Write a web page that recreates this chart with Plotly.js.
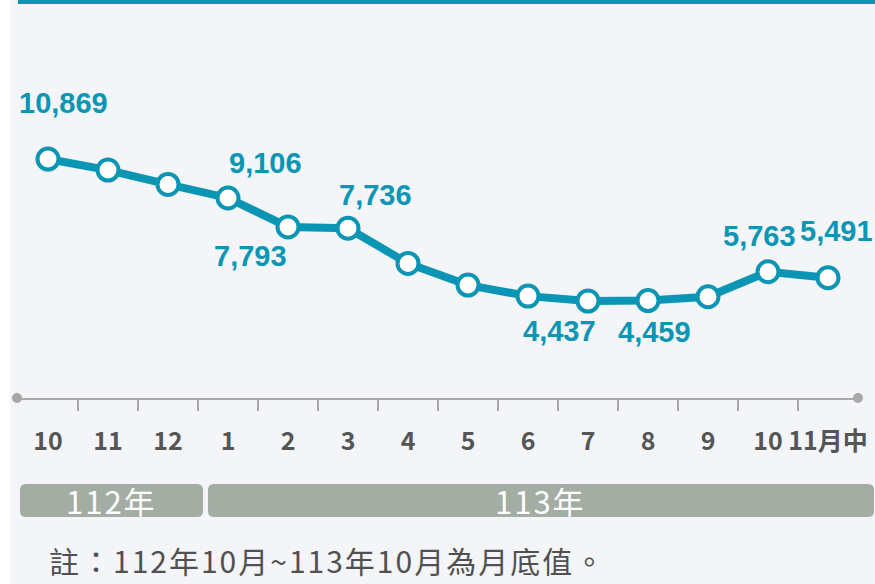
<!DOCTYPE html>
<html>
<head>
<meta charset="utf-8">
<script src="https://cdn.plot.ly/plotly-3.0.1.min.js"></script>
<style>
  html, body { margin: 0; padding: 0; background: #fff; }
  #chart { width: 875px; height: 584px; }
  /* 年ラベルと注記の字間 */
  #chart .annotation[data-index="8"] text,
  #chart .annotation[data-index="9"] text,
  #chart .annotation[data-index="10"] text { letter-spacing: 2px; }
</style>
</head>
<body>
<div id="chart"></div>
<script>
// 月別データ（112年10月～113年11月中）
const monthLabels = ["10", "11", "12", "1", "2", "3", "4", "5", "6", "7", "8", "9", "10", "11月中"];
const values = [10869, 10370, 9720, 9106, 7793, 7736, 6140, 5160, 4660, 4437, 4459, 4630, 5763, 5491];
// 数値を表示する点の番号
const labeledIdx = [0, 3, 4, 5, 9, 10, 12, 13];
// 年の区分
const yearNames = ["112年", "113年"];
const noteText = "註：112年10月~113年10月為月底值。";

const TEAL = "#0a95b5";
const W = 875, H = 584;
const M = { l: 18, r: 17, t: 20, b: 186 };
const PW = W - M.l - M.r, PH = H - M.t - M.b;

// ピクセル座標 → paper座標
function px(x) { return (x - M.l) / PW; }
function py(y) { return (H - M.b - y) / PH; }

// 角丸の四角形（ピクセル指定）
function roundRect(x0, y0, x1, y1, r, color) {
  const a = px(x0), b = px(x1), c = py(y0), d = py(y1);
  const rx = r / PW, ry = r / PH;
  const path = `M ${a + rx},${c} L ${b - rx},${c} Q ${b},${c} ${b},${c - ry} ` +
    `L ${b},${d + ry} Q ${b},${d} ${b - rx},${d} L ${a + rx},${d} ` +
    `Q ${a},${d} ${a},${d + ry} L ${a},${c - ry} Q ${a},${c} ${a + rx},${c} Z`;
  return { type: "path", xref: "paper", yref: "paper", path: path,
    fillcolor: color, line: { width: 0 }, layer: "below" };
}

function dot(x, y) {
  return { type: "circle", xref: "paper", yref: "paper",
    xsizemode: "pixel", ysizemode: "pixel",
    xanchor: px(x), yanchor: py(y), x0: -5, x1: 5, y0: -5, y1: 5,
    fillcolor: "#a8a8a8", line: { width: 0 } };
}

const xs = values.map((v, i) => i);

const trace = {
  x: xs,
  y: values,
  mode: "lines+markers",
  type: "scatter",
  line: { color: TEAL, width: 8 },
  marker: { size: 21, color: "#ffffff", line: { color: TEAL, width: 4 } },
  cliponaxis: false,
  hoverinfo: "skip",
};

// ラベルのずらし量（ピクセル）
const shifts = {
  0: [15, 56], 3: [37, 35], 4: [-38, -29], 5: [27, 33],
  9: [-29, -30], 10: [6, -31], 12: [-9, 36], 13: [8, 47],
};

const annotations = labeledIdx.map(i => ({
  x: i, y: values[i], xref: "x", yref: "y",
  text: values[i].toLocaleString("en-US"),
  showarrow: false,
  xshift: shifts[i][0], yshift: shifts[i][1],
  font: { family: "Liberation Sans, Arial, sans-serif", size: 29, color: TEAL, weight: "bold" },
}));

// 字間を広げるので中央揃えで置く
annotations.push(
  { xref: "paper", yref: "paper", x: px(111), y: py(500), xanchor: "center", yanchor: "middle",
    text: yearNames[0], showarrow: false,
    font: { family: "Noto Sans CJK TC", size: 31, color: "#ffffff" } },
  { xref: "paper", yref: "paper", x: px(540), y: py(500), xanchor: "center", yanchor: "middle",
    text: yearNames[1], showarrow: false,
    font: { family: "Noto Sans CJK TC", size: 31, color: "#ffffff" } },
  { xref: "paper", yref: "paper", x: px(327), y: py(560), xanchor: "center", yanchor: "middle",
    text: noteText, showarrow: false,
    font: { family: "Noto Sans CJK TC", size: 30, color: "#505050" } }
);

const layout = {
  width: W, height: H,
  margin: M,
  paper_bgcolor: "#f3f5f9",
  plot_bgcolor: "rgba(0,0,0,0)",
  showlegend: false,
  xaxis: {
    range: [-0.5, values.length - 0.5],
    tickmode: "array",
    tickvals: xs,
    ticktext: monthLabels,
    ticks: "",
    ticklabelstandoff: 20,
    tickfont: { family: "Noto Sans CJK TC", size: 25, color: "#555555", weight: "bold" },
    minor: {
      tickmode: "array",
      tickvals: xs.slice(1).map(i => i - 0.5),
      ticks: "outside", ticklen: 11, tickwidth: 2, tickcolor: "#a8a8a8",
    },
    showline: true, linecolor: "#a8a8a8", linewidth: 2,
    showgrid: false, zeroline: false, fixedrange: true,
  },
  yaxis: {
    range: [45, 17168],
    visible: false,
    fixedrange: true,
  },
  shapes: [
    { type: "rect", xref: "paper", yref: "paper", x0: px(0), x1: px(10), y0: py(0), y1: py(H),
      fillcolor: "#ffffff", line: { width: 0 }, layer: "below" },
    { type: "rect", xref: "paper", yref: "paper", x0: px(18), x1: px(W), y0: py(0), y1: py(4),
      fillcolor: TEAL, line: { width: 0 } },
    roundRect(20, 484, 203, 517, 6, "#a3ada4"),
    roundRect(208, 484, 874, 517, 6, "#a3ada4"),
    dot(17, 398),
    dot(858, 398),
  ],
  annotations: annotations,
};

Plotly.newPlot("chart", [trace], layout, { displayModeBar: false, staticPlot: true });
</script>
</body>
</html>
